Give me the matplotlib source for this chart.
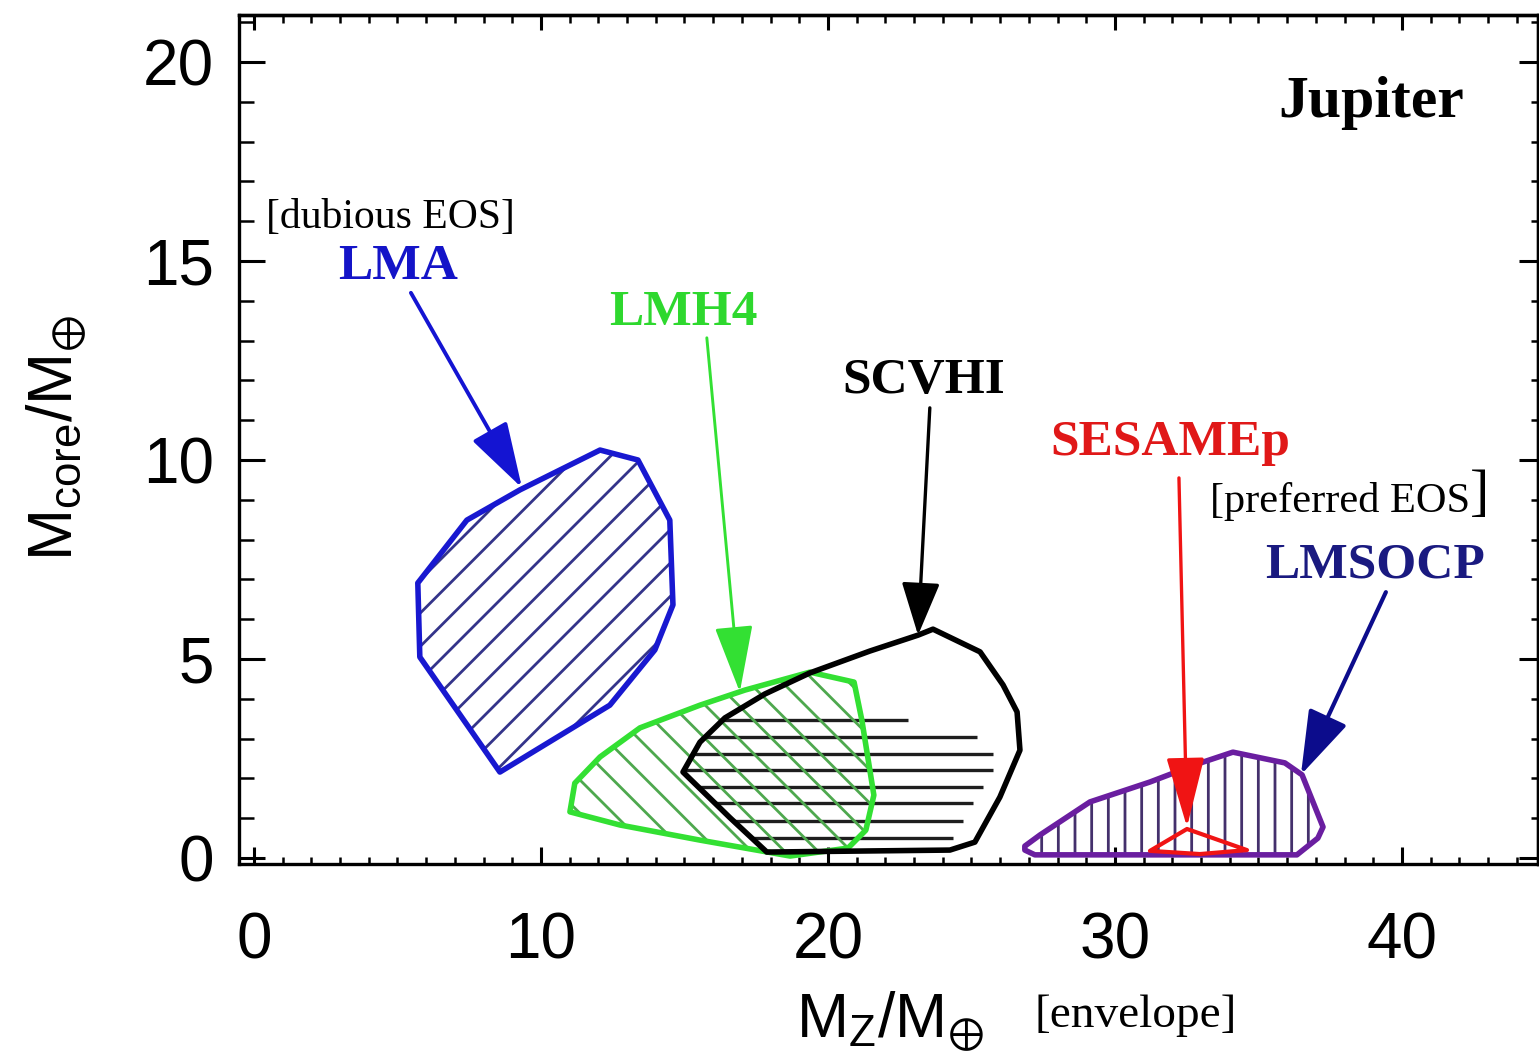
import matplotlib
matplotlib.use("Agg")
import matplotlib.pyplot as plt
from matplotlib.patches import Polygon, FancyArrowPatch, ArrowStyle
import numpy as np

# ---------------- data ----------------
x_ticks = [0, 10, 20, 30, 40]
y_ticks = [0, 5, 10, 15, 20]

lma_x = [12.06, 13.38, 14.49, 14.60, 13.97, 12.40, 8.57, 5.78, 5.71, 7.42, 9.27]
lma_y = [10.25, 10.00, 8.49, 6.36, 5.23, 3.84, 2.16, 5.05, 6.91, 8.49, 9.25]

lmh4_x = [11.01, 11.18, 12.06, 13.45, 15.54, 17.11, 19.37, 20.91, 21.18, 21.60, 21.32, 20.70, 18.68, 15.54, 12.75]
lmh4_y = [1.16, 1.88, 2.54, 3.27, 3.84, 4.22, 4.67, 4.42, 3.47, 1.58, 0.70, 0.25, 0.05, 0.45, 0.83]

scvhi_x = [14.95, 15.54, 16.41, 17.80, 19.37, 21.46, 23.14, 23.66, 25.30, 26.10, 26.59, 26.69, 25.99, 25.12, 24.25, 17.87, 16.59]
scvhi_y = [2.16, 2.91, 3.52, 4.12, 4.65, 5.20, 5.60, 5.75, 5.18, 4.35, 3.67, 2.71, 1.53, 0.40, 0.20, 0.15, 1.01]
scvhi_hatch_y = [3.47, 3.04, 2.61, 2.21, 1.78, 1.38, 0.93, 0.50]
scvhi_hatch_xend = [22.79, 25.19, 25.75, 25.75, 25.40, 25.05, 24.70, 24.36]

lmsocp_x = [26.86, 27.39, 29.13, 31.22, 32.86, 34.11, 35.92, 36.52, 37.25, 37.07, 36.34, 27.21, 26.86]
lmsocp_y = [0.30, 0.58, 1.41, 1.91, 2.36, 2.66, 2.39, 2.09, 0.78, 0.50, 0.08, 0.08, 0.20]

sesame_x = [31.22, 32.51, 34.60, 32.96]
sesame_y = [0.18, 0.73, 0.20, 0.10]

# label texts and arrows: (text, x, y, arrow start, arrow tip)
eos_names = ["LMA", "LMH4", "SCVHI", "SESAMEp", "LMSOCP"]
eos_text_x = [5.02, 14.95, 23.34, 31.92, 39.06]
eos_text_y = [14.55, 13.39, 11.68, 10.13, 7.06]
arrow_start_x = [5.47, 15.78, 23.55, 32.23, 39.44]
arrow_start_y = [14.20, 13.07, 11.31, 9.55, 6.68]
arrow_tip_x = [9.34, 16.93, 23.14, 32.51, 36.48]
arrow_tip_y = [9.30, 4.17, 5.60, 0.78, 2.09]

# ---------------- styling ----------------
W, H = 1539, 1057
plt.rcParams["hatch.linewidth"] = 2.0
plt.rcParams["mathtext.fontset"] = "custom"
plt.rcParams["mathtext.rm"] = "Liberation Sans"
plt.rcParams["mathtext.it"] = "Liberation Sans:italic"
SANS = ["Liberation Sans", "DejaVu Sans"]
SERIF = ["Liberation Serif", "DejaVu Serif"]

text_colors = ["#1414c8", "#2ed82e", "black", "#e01818", "#1a1a80"]
arrow_colors = ["#1414d2", "#33e033", "black", "#f01414", "#0c0c8c"]
arrow_lw = [2.8, 2.1, 2.4, 2.4, 3.0]
head_len = [41, 42, 33, 44, 40]
head_wid = [12.4, 12, 12, 12, 13]

fig = plt.figure(figsize=(W / 100, H / 100), dpi=100)
ax = fig.add_axes([239 / W, 1 - 864 / H, (1538 - 239) / W, (864 - 15) / H])
ax.set_xlim(-0.52, 44.74)
ax.set_ylim(-0.15, 21.18)

# SCVHI horizontal hatch lines (clipped to its outline)
scvhi_clip = Polygon(np.column_stack([scvhi_x, scvhi_y]), closed=True, fill=False,
                     lw=0, transform=ax.transData)
ax.add_patch(scvhi_clip)
hl = ax.hlines(scvhi_hatch_y, 14.0, scvhi_hatch_xend, colors="#1e1e1e", lw=2.4, zorder=2)
hl.set_clip_path(scvhi_clip)

def hatched(xs, ys, hatch, hcol, ecol, lw, z):
    pts = np.column_stack([xs, ys])
    ax.add_patch(Polygon(pts, closed=True, fill=False, hatch=hatch,
                         edgecolor=hcol, lw=0, zorder=z))
    ax.add_patch(Polygon(pts, closed=True, fill=False, edgecolor=ecol,
                         lw=lw, joinstyle="round", zorder=z + 0.5))

# LMA
hatched(lma_x, lma_y, "/", "#34348a", "#1818d0", 4.0, 3)
# LMH4
hatched(lmh4_x, lmh4_y, "\\", "#4ea84e", "#33e033", 4.0, 4)
# SCVHI outline
ax.add_patch(Polygon(np.column_stack([scvhi_x, scvhi_y]), closed=True, fill=False,
                     edgecolor="black", lw=4.0, joinstyle="round", zorder=5))
# LMSOCP
hatched(lmsocp_x, lmsocp_y, "|", "#44306c", "#6a1ea0", 4.0, 3)
# SESAMEp
ax.add_patch(Polygon(np.column_stack([sesame_x, sesame_y]), closed=True, fill=False,
                     edgecolor="#f01414", lw=3.0, joinstyle="round", zorder=6))

# labels and arrows
for i, name in enumerate(eos_names):
    ax.text(eos_text_x[i], eos_text_y[i], name, color=text_colors[i], family=SERIF,
            fontweight="bold", fontsize=37, ha="center", va="baseline", zorder=8)
    st = ArrowStyle("-|>", head_length=head_len[i], head_width=head_wid[i])
    arr = FancyArrowPatch((arrow_start_x[i], arrow_start_y[i]),
                          (arrow_tip_x[i], arrow_tip_y[i]), arrowstyle=st,
                          mutation_scale=1, lw=arrow_lw[i], color=arrow_colors[i],
                          shrinkA=0, shrinkB=0, zorder=7)
    ax.add_patch(arr)

ax.text(38.92, 18.62, "Jupiter", family=SERIF, fontweight="bold", fontsize=43,
        ha="center", va="baseline", color="black")
ax.text(4.77, 15.83, "[dubious EOS]", family=SERIF, fontsize=30,
        ha="center", va="baseline", color="black")
ax.text(33.31, 8.69, "[preferred EOS", family=SERIF, fontsize=30.5,
        ha="left", va="baseline", color="black")
ax.text(42.37, 8.77, "]", family=SERIF, fontsize=42,
        ha="left", va="baseline", color="black")

# ticks
ax.set_xticks(x_ticks)
ax.set_yticks(y_ticks)
ax.set_xticks(np.arange(-0, 45, 1), minor=True)
ax.set_yticks(np.arange(0, 22, 1), minor=True)
ax.set_xticklabels([str(v) for v in x_ticks], family=SANS, fontsize=46)
ax.set_yticklabels([str(v) for v in y_ticks], family=SANS, fontsize=46)
ax.tick_params(axis="x", which="major", direction="in", length=12, width=2.2, pad=34,
               bottom=True, top=False)
ax.tick_params(axis="x", which="minor", direction="in", length=5, width=1.8,
               bottom=True, top=False)
ax.tick_params(axis="y", which="major", direction="in", length=19, width=2.2, pad=18,
               left=True, right=False)
ax.tick_params(axis="y", which="minor", direction="in", length=11, width=1.8,
               left=True, right=False)

secx = ax.secondary_xaxis("top")
secx.set_xticks(x_ticks)
secx.set_xticks(np.arange(0, 45, 1), minor=True)
secx.tick_params(axis="x", which="major", direction="in", length=11, width=2.2, labeltop=False)
secx.tick_params(axis="x", which="minor", direction="in", length=6, width=1.8)
secx.spines["top"].set_linewidth(2.4)
secy = ax.secondary_yaxis("right")
secy.set_yticks(y_ticks)
secy.set_yticks(np.arange(0, 22, 1), minor=True)
secy.tick_params(axis="y", which="major", direction="in", length=14, width=2.2, labelright=False)
secy.tick_params(axis="y", which="minor", direction="in", length=5, width=1.8)
secy.spines["right"].set_linewidth(2.4)

for s in ax.spines.values():
    s.set_linewidth(2.4)

# axis labels
fig.text(57 / W, 1 - 438 / H, r"$\mathregular{M_{core}/M_{\oplus}}$", rotation=90,
         fontsize=45, ha="center", va="center", family=SANS)
fig.text(890 / W, 1 - 1037 / H, r"$\mathregular{M_Z/M_{\oplus}}$", fontsize=45,
         ha="center", va="baseline", family=SANS)
fig.text(1035 / W, 1 - 1027 / H, "[envelope]", fontsize=34, family=SERIF,
         ha="left", va="baseline")

fig.savefig("out.png", dpi=100)
